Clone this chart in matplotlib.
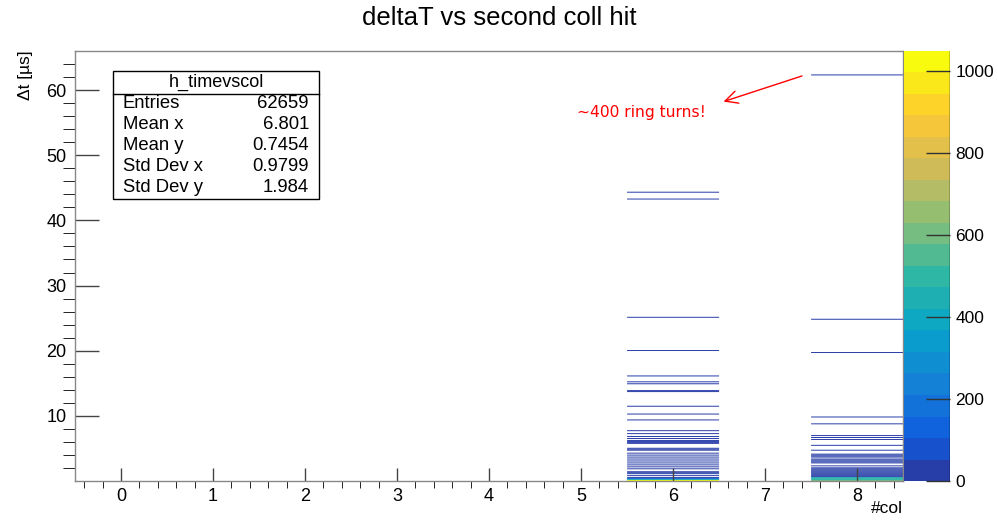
#!/usr/bin/env python3

import numpy as np
import matplotlib
matplotlib.use('Agg')
import matplotlib.pyplot as plt
from matplotlib.colors import LinearSegmentedColormap, ListedColormap, BoundaryNorm

# y bin lower edges (us, 0.15 us bins) and counts
col6_y = [44.25, 43.2, 25.05, 19.95, 16.05, 15.15, 14.85, 13.8, 13.65, 11.4,
          10.2, 9.3, 7.65, 7.2, 6.75, 6.45, 6.15, 6.0, 5.85, 5.7, 4.95, 4.8,
          4.65, 4.2, 3.9, 3.6, 3.3, 3.0, 2.7, 2.4, 2.1, 1.8, 1.35, 1.2, 1.05,
          0.75, 0.45, 0.3, 0.15, 0.0]
col6_counts = [1, 2, 1, 1, 1, 1, 1, 3, 2, 1,
               1, 1, 1, 1, 1, 1, 6, 8, 5, 3, 3, 5,
               4, 1, 2, 2, 2, 2, 2, 2, 2, 3, 4, 5, 8,
               12, 20, 150, 460, 1000]

col8_y = [62.25, 24.75, 19.65, 9.75, 8.7, 6.9, 6.6, 6.3, 5.4, 4.65, 4.05,
          3.9, 3.75, 3.6, 3.3, 3.15, 3.0, 2.85, 2.7, 2.25, 1.95, 1.8, 1.65,
          1.5, 1.35, 1.2, 1.05, 0.9, 0.75, 0.6, 0.45, 0.3, 0.15, 0.0]
col8_counts = [1, 1, 1, 1, 1, 2, 2, 2, 1, 1, 8,
               12, 6, 10, 8, 12, 10, 8, 6, 1, 12, 15, 18,
               20, 22, 25, 28, 30, 35, 40, 420, 480, 520, 600]

stats_names = ['Entries', 'Mean x', 'Mean y', 'Std Dev x', 'Std Dev y']
stats_values = ['62659', '6.801', '0.7454', '0.9799', '1.984']

# ROOT kBird palette
bird_stops = [0.0, 0.125, 0.25, 0.375, 0.5, 0.625, 0.75, 0.875, 1.0]
bird_rgb = [(0.2082, 0.1664, 0.5293), (0.0592, 0.3599, 0.8684),
            (0.0780, 0.5041, 0.8385), (0.0232, 0.6419, 0.7914),
            (0.1802, 0.7178, 0.6425), (0.5301, 0.7492, 0.4662),
            (0.8186, 0.7328, 0.3499), (0.9956, 0.7862, 0.1968),
            (0.9764, 0.9832, 0.0539)]


def build_hist():
    ybw = 0.15
    nby = 440
    yedges = np.linspace(0, nby * ybw, nby + 1)
    xedges = np.arange(-0.5, 9.0, 1.0)
    h = np.zeros((nby, len(xedges) - 1))
    for y, c in zip(col6_y, col6_counts):
        h[int(round(y / ybw)), 6] = c
    for y, c in zip(col8_y, col8_counts):
        h[int(round(y / ybw)), 8] = c
    return xedges, yedges, np.ma.masked_equal(h, 0)


def main():
    plt.rcParams['font.family'] = ['Liberation Sans', 'DejaVu Sans']
    fig = plt.figure(figsize=(9.98, 5.25), dpi=100)
    ax = fig.add_axes([0.0752, 0.0838, 0.8297, 0.8191])
    cax = fig.add_axes([0.9058, 0.0838, 0.0461, 0.8191])

    xedges, yedges, h = build_hist()
    zmax = 1.05 * h.max()
    ncont = 20
    levels = np.linspace(0, zmax, ncont + 1)
    bird = LinearSegmentedColormap.from_list('bird', list(zip(bird_stops, bird_rgb)))
    # ROOT picks the palette colour near the top of each contour band
    cmap = ListedColormap(bird(np.minimum((np.arange(ncont) + 0.99) / ncont, 1.0)))
    norm = BoundaryNorm(levels, ncont)

    mesh = ax.pcolormesh(xedges, yedges, h, cmap=cmap, norm=norm,
                         antialiased=True, linewidth=0, snap=False)
    ax.set_xlim(-0.5, 8.5)
    ax.set_ylim(0, 66)

    ax.set_xticks(range(0, 9))
    ax.set_xticks(np.arange(-0.4, 8.5, 0.2), minor=True)
    ax.set_yticks(range(10, 61, 10))
    ax.set_yticks(range(2, 66, 2), minor=True)
    ax.tick_params(axis='both', direction='in', colors='#444444', labelcolor='black',
                   labelsize=13, width=1)
    ax.tick_params(axis='x', which='major', length=9.4, pad=5)
    ax.tick_params(axis='x', which='minor', length=4.7)
    ax.tick_params(axis='y', which='major', length=17.3, pad=6)
    ax.tick_params(axis='y', which='minor', length=8.6)
    for s in ax.spines.values():
        s.set_color('#888888')
        s.set_linewidth(1)

    fig.text(0.5, 1 - 18 / 525, 'deltaT vs second coll hit', ha='center',
             va='center', fontsize=18.5)
    fig.text(0.018, 0.905, 'Δt [µs]', rotation=90, ha='left', va='top', fontsize=12.5)
    fig.text(0.905, 0.018, '#col', ha='right', va='bottom', fontsize=12.5)

    # palette axis
    cb = fig.colorbar(mesh, cax=cax, ticks=range(0, 1001, 200), drawedges=False)
    cb.outline.set_visible(False)
    cax.axvline(1.0, color='black', lw=1)
    cax.tick_params(axis='y', direction='in', length=17, width=1, colors='#333333',
                    labelcolor='black', labelsize=12.5, pad=4)
    cax.minorticks_off()

    # stats box
    bx0, bx1 = 113 / 998, 319 / 998
    by0, by1 = 1 - 199 / 525, 1 - 71 / 525
    fig.patches.append(plt.Rectangle((bx0, by0), bx1 - bx0, by1 - by0,
                                     transform=fig.transFigure, fill=True,
                                     facecolor='white', edgecolor='black', lw=1))
    sep = 1 - 94 / 525
    fig.add_artist(plt.Line2D([bx0, bx1], [sep, sep], transform=fig.transFigure,
                              color='black', lw=1))
    fig.text((bx0 + bx1) / 2, (by1 + sep) / 2, 'h_timevscol', ha='center',
             va='center', fontsize=13)
    for i, (n, v) in enumerate(zip(stats_names, stats_values)):
        yy = 1 - (104 + i * 20.8) / 525
        fig.text(123 / 998, yy, n, ha='left', va='center', fontsize=13.3)
        fig.text(309 / 998, yy, v, ha='right', va='center', fontsize=13.3)

    # annotation
    ax.annotate('', xy=(6.52, 58.1), xytext=(7.43, 62.3),
                arrowprops=dict(arrowstyle='->,head_length=0.9,head_width=0.45',
                                color='red', lw=1))
    ax.text(4.96, 56.5, '~400 ring turns!', color='red', fontsize=11.2,
            family='DejaVu Sans', ha='left', va='center')

    fig.savefig('out.png', dpi=100)


if __name__ == '__main__':
    main()
